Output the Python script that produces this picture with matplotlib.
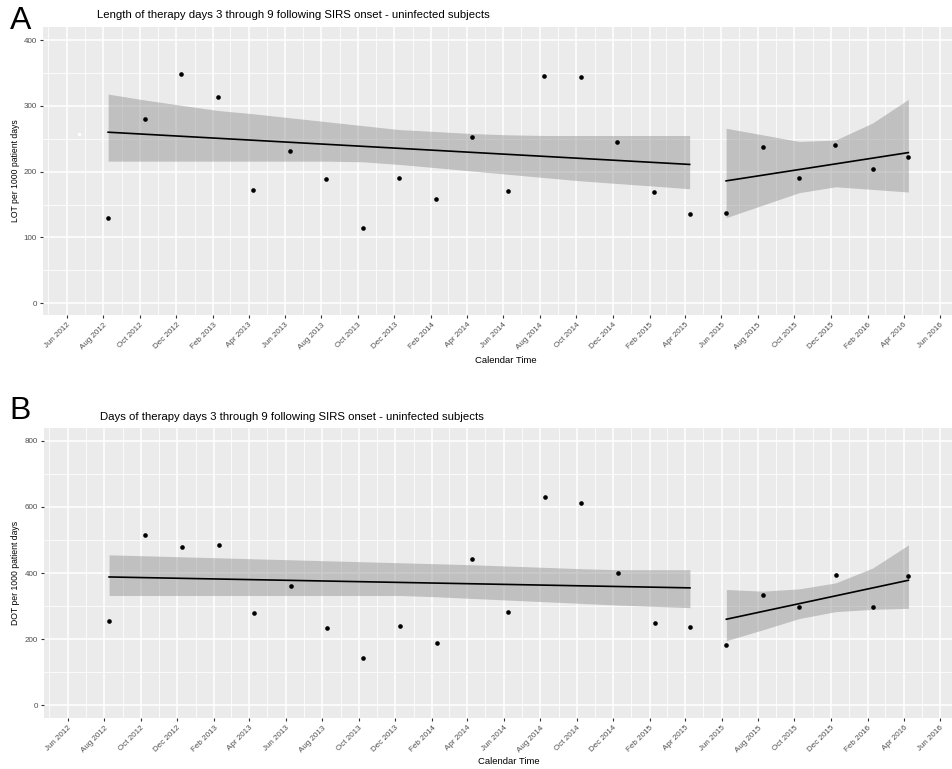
import matplotlib
matplotlib.use("Agg")
import matplotlib.pyplot as plt
import matplotlib.dates as mdates
import pandas as pd

# ---------------- data ----------------
dates = ["2012-08-09", "2012-10-09", "2012-12-09", "2013-02-09", "2013-04-09",
         "2013-06-09", "2013-08-09", "2013-10-09", "2013-12-09", "2014-02-09",
         "2014-04-09", "2014-06-09", "2014-08-09", "2014-10-09", "2014-12-09",
         "2015-02-09", "2015-04-09", "2015-06-09", "2015-08-09", "2015-10-09",
         "2015-12-09", "2016-02-09", "2016-04-09"]
n_pre = 17  # Aug 2012 .. Apr 2015 ; post period Jun 2015 .. Apr 2016

lot = [129, 280, 348, 314, 172, 232, 189, 114, 191, 159, 253, 170, 346, 344,
       245, 169, 136, 137, 238, 191, 240, 204, 222]
dot = [254, 515, 479, 485, 279, 361, 233, 142, 239, 188, 442, 282, 630, 612,
       400, 248, 236, 182, 333, 297, 394, 297, 391]

# fitted segments (start, end) and confidence bands
lot_fit_pre = [260, 211]
lot_fit_post = [186, 229]
lot_hi_pre = [318, 309, 301, 293, 288, 282, 276, 270, 264, 261, 258, 256, 255, 255, 255, 255, 255]
lot_lo_pre = [216, 216, 216, 216, 216, 216, 216, 215, 211, 206, 201, 196, 191, 186, 182, 178, 174]
lot_hi_post = [266, 256, 246, 248, 274, 310]
lot_lo_post = [130, 149, 168, 177, 173, 169]

dot_fit_pre = [388, 355]
dot_fit_post = [260, 378]
dot_hi_pre = [455, 452, 449, 446, 443, 440, 437, 434, 431, 428, 425, 421, 417, 413, 410, 410, 410]
dot_lo_pre = [332, 332, 332, 332, 332, 332, 332, 332, 332, 328, 323, 318, 313, 308, 303, 299, 295]
dot_hi_post = [350, 345, 352, 370, 415, 485]
dot_lo_post = [195, 228, 262, 283, 290, 293]

ghost_date = ["2012-06-21"]
ghost_val = [258]

titles = ["Length of therapy days 3 through 9 following SIRS onset - uninfected subjects",
          "Days of therapy days 3 through 9 following SIRS onset - uninfected subjects"]
ylabels = ["LOT per 1000 patient days", "DOT per 1000 patient days"]
panel_letters = ["A", "B"]
xlabel = "Calendar Time"

# ---------------- drawing ----------------
FONT = "Liberation Sans"
plt.rcParams["font.family"] = [FONT, "DejaVu Sans"]

d = pd.to_datetime(dates)
W, H = 952, 769
fig = plt.figure(figsize=(W / 100, H / 100), dpi=100)
fig.patch.set_facecolor("white")

BG = "#EBEBEB"
BAND = "#8c8c8c"


def px_ax(l, t, r, b):
    return fig.add_axes([l / W, 1 - b / H, (r - l) / W, (b - t) / H])


def style(ax, ylim, yticks, yminor):
    ax.set_facecolor(BG)
    for s in ax.spines.values():
        s.set_visible(False)
    ax.set_xlim(pd.Timestamp("2012-04-22"), pd.Timestamp("2016-06-21"))
    ax.set_ylim(*ylim)
    ax.xaxis.set_major_locator(mdates.MonthLocator(bymonth=[2, 4, 6, 8, 10, 12]))
    ax.xaxis.set_minor_locator(mdates.MonthLocator(bymonth=[1, 3, 5, 7, 9, 11]))
    ax.xaxis.set_major_formatter(mdates.DateFormatter("%b %Y"))
    ax.set_yticks(yticks)
    ax.set_yticks(yminor, minor=True)
    ax.grid(True, which="major", color="white", lw=1.1, zorder=0)
    ax.grid(True, which="minor", color="white", lw=0.55, zorder=0)
    ax.set_axisbelow(True)
    ax.tick_params(axis="both", which="major", length=2.5, width=0.8,
                   color="#333333", labelsize=5.8, labelcolor="#4D4D4D", pad=2)
    ax.tick_params(axis="both", which="minor", length=0)
    for lab in ax.get_xticklabels():
        lab.set_rotation(45)
        lab.set_ha("right")
        lab.set_va("top")
        lab.set_rotation_mode("anchor")


def draw(ax, vals, fit_pre, fit_post, hi_pre, lo_pre, hi_post, lo_post):
    dpre, dpost = d[:n_pre], d[n_pre:]
    ax.fill_between(dpre, lo_pre, hi_pre, color=BAND, alpha=0.45, lw=0, zorder=2)
    ax.fill_between(dpost, lo_post, hi_post, color=BAND, alpha=0.45, lw=0, zorder=2)
    ax.plot([dpre[0], dpre[-1]], fit_pre, color="black", lw=1.2, zorder=3)
    ax.plot([dpost[0], dpost[-1]], fit_post, color="black", lw=1.2, zorder=3)
    ax.scatter(d, vals, s=11, color="black", zorder=4, lw=0)


axA = px_ax(43, 27, 952, 315)
style(axA, (-18, 420), [0, 100, 200, 300, 400], [50, 150, 250, 350])
draw(axA, lot, lot_fit_pre, lot_fit_post, lot_hi_pre, lot_lo_pre, lot_hi_post, lot_lo_post)
axA.scatter(pd.to_datetime(ghost_date), ghost_val, s=6, color="white", zorder=4, lw=0)

axB = px_ax(44, 428, 952, 718)
style(axB, (-39, 839), [0, 200, 400, 600, 800], [100, 300, 500, 700])
draw(axB, dot, dot_fit_pre, dot_fit_post, dot_hi_pre, dot_lo_pre, dot_hi_post, dot_lo_post)

# titles, labels
fig.text(97 / W, 1 - 15 / H, titles[0], fontsize=8.2, ha="left", va="center", color="black")
fig.text(100 / W, 1 - 417 / H, titles[1], fontsize=8.2, ha="left", va="center", color="black")
fig.text(21 / W, 1 - 21 / H, panel_letters[0], fontsize=23, ha="center", va="center")
fig.text(20 / W, 1 - 411 / H, panel_letters[1], fontsize=23, ha="center", va="center")
fig.text(16 / W, 1 - 171 / H, ylabels[0], fontsize=6.2, rotation=90, ha="center", va="center")
fig.text(16 / W, 1 - 573 / H, ylabels[1], fontsize=6.2, rotation=90, ha="center", va="center")
fig.text(506 / W, 1 - 360 / H, xlabel, fontsize=6.8, ha="center", va="center")
fig.text(509 / W, 1 - 762 / H, xlabel, fontsize=6.8, ha="center", va="center")

fig.savefig("out.png", dpi=100, facecolor="white")
